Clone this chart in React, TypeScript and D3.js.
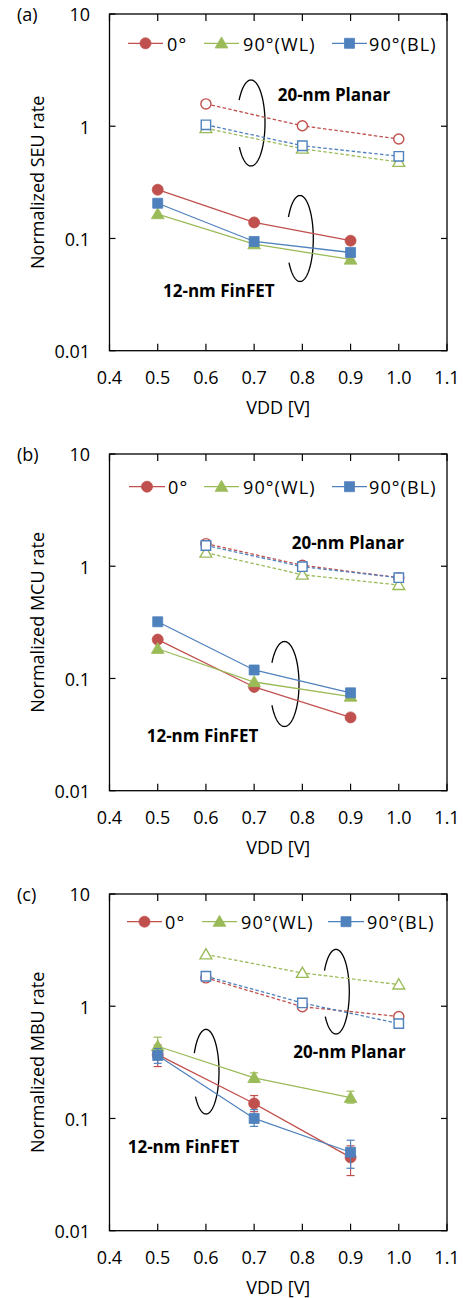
import React from "react";
import * as d3 from "d3";

// Supply voltages (V) for each technology
const vddPlanar = [0.6, 0.8, 1.0];
const vddFinfet = [0.5, 0.7, 0.9];

// Axis ticks
const xTicks = [0.4, 0.5, 0.6, 0.7, 0.8, 0.9, 1.0, 1.1];
const yTicks = [0.01, 0.1, 1, 10];

// Series (incidence angle)
const seriesNames = ["0°", "90°(WL)", "90°(BL)"];
const seriesColors = ["#C0504D", "#9BBB59", "#4F81BD"];
const seriesSymbols = [d3.symbolCircle, d3.symbolTriangle, d3.symbolSquare];

// (a) SEU rate
const seuPlanar0 = [1.58, 1.01, 0.77];
const seuPlanarWL = [0.96, 0.63, 0.48];
const seuPlanarBL = [1.03, 0.67, 0.54];
const seuFinfet0 = [0.272, 0.139, 0.0955];
const seuFinfetWL = [0.165, 0.089, 0.065];
const seuFinfetBL = [0.206, 0.094, 0.075];

// (b) MCU rate
const mcuPlanar0 = [1.59, 1.02, 0.79];
const mcuPlanarWL = [1.32, 0.84, 0.68];
const mcuPlanarBL = [1.53, 0.99, 0.79];
const mcuFinfet0 = [0.222, 0.084, 0.045];
const mcuFinfetWL = [0.184, 0.093, 0.069];
const mcuFinfetBL = [0.32, 0.119, 0.0745];

// (c) MBU rate
const mbuPlanar0 = [1.79, 0.99, 0.81];
const mbuPlanarWL = [2.89, 1.98, 1.56];
const mbuPlanarBL = [1.85, 1.07, 0.7];
const mbuFinfet0 = [0.37, 0.136, 0.045];
const mbuFinfetWL = [0.44, 0.23, 0.153];
const mbuFinfetBL = [0.364, 0.1, 0.05];

// (c) error bars [low, high]
const mbuPlanar0Err = [[1.74, 1.84], [0.94, 1.03], [0.77, 0.86]];
const mbuFinfet0Err = [[0.29, 0.45], [0.115, 0.16], [0.031, 0.057]];
const mbuFinfetWLErr = [[0.37, 0.53], [0.21, 0.255], [0.137, 0.175]];
const mbuFinfetBLErr = [[0.31, 0.42], [0.085, 0.12], [0.036, 0.064]];

type Ellipse = { cx: number; cy: number; rx: number; ry: number; gapLow: number; gapHigh: number };

type PanelSpec = {
  tag: string;
  yTitle: string;
  top: number;
  planar: number[][];
  finfet: number[][];
  planarErr?: (number[][] | null)[];
  finfetErr?: (number[][] | null)[];
  legendY: number;
  legend: { x1: number; x2: number; tx: number }[];
  planarLabel: [number, number];
  finfetLabel: [number, number];
  ellipses: Ellipse[];
};

const panels: PanelSpec[] = [
  {
    tag: "(a)",
    yTitle: "Normalized SEU rate",
    top: 14,
    planar: [seuPlanar0, seuPlanarWL, seuPlanarBL],
    finfet: [seuFinfet0, seuFinfetWL, seuFinfetBL],
    legendY: 29.3,
    legend: [
      { x1: 128, x2: 163, tx: 167 },
      { x1: 204, x2: 239, tx: 243 },
      { x1: 332, x2: 367, tx: 369 },
    ],
    planarLabel: [277.7, 81],
    finfetLabel: [163, 276.7],
    ellipses: [
      { cx: 251, cy: 109, rx: 14, ry: 43, gapLow: 34, gapHigh: 32 },
      { cx: 300, cy: 224.5, rx: 13.3, ry: 43, gapLow: 34, gapHigh: 30 },
    ],
  },
  {
    tag: "(b)",
    yTitle: "Normalized MCU rate",
    top: 454,
    planar: [mcuPlanar0, mcuPlanarWL, mcuPlanarBL],
    finfet: [mcuFinfet0, mcuFinfetWL, mcuFinfetBL],
    legendY: 32.7,
    legend: [
      { x1: 129, x2: 165, tx: 168 },
      { x1: 204, x2: 239, tx: 243 },
      { x1: 332, x2: 367, tx: 369 },
    ],
    planarLabel: [291.7, 88.7],
    finfetLabel: [146.7, 282],
    ellipses: [{ cx: 284.5, cy: 230, rx: 14.5, ry: 42.5, gapLow: 30, gapHigh: 30 }],
  },
  {
    tag: "(c)",
    yTitle: "Normalized MBU rate",
    top: 894,
    planar: [mbuPlanar0, mbuPlanarWL, mbuPlanarBL],
    finfet: [mbuFinfet0, mbuFinfetWL, mbuFinfetBL],
    planarErr: [mbuPlanar0Err, null, null],
    finfetErr: [mbuFinfet0Err, mbuFinfetWLErr, mbuFinfetBLErr],
    legendY: 27.7,
    legend: [
      { x1: 127, x2: 162, tx: 165 },
      { x1: 202, x2: 237, tx: 241 },
      { x1: 328, x2: 364, tx: 367 },
    ],
    planarLabel: [293.3, 157.7],
    finfetLabel: [127.7, 253.3],
    ellipses: [
      { cx: 336, cy: 97.7, rx: 13.3, ry: 42.3, gapLow: 36, gapHigh: 30 },
      { cx: 206, cy: 177.7, rx: 13, ry: 42.3, gapLow: 36, gapHigh: 26 },
    ],
  },
];

const FONT = "'Open Sans', sans-serif";
const LEFT = 109.5;
const RIGHT = 447;
const PLOT_H = 336.7;

function ellipseArc(e: Ellipse, cy0: number) {
  const start = 180 + e.gapHigh;
  const end = 540 - e.gapLow;
  const pts: [number, number][] = d3.range(start, end + 0.5, 2).map((deg) => {
    const t = (deg * Math.PI) / 180;
    return [e.cx + e.rx * Math.cos(t), cy0 + e.cy + e.ry * Math.sin(t)];
  });
  return d3.line()(pts) || "";
}

function Marker({ i, x, y, hollow, size }: { i: number; x: number; y: number; hollow: boolean; size?: number }) {
  const sizes = hollow ? [80, 60, 88] : [95, 70, 100];
  const d = d3.symbol().type(seriesSymbols[i]).size(size ?? sizes[i])() || "";
  const dy = i === 1 ? 1 : 0;
  return (
    <path
      d={d}
      transform={`translate(${x},${y + dy})`}
      fill={hollow ? "#fff" : seriesColors[i]}
      stroke={seriesColors[i]}
      strokeWidth={hollow ? 1.4 : 0.8}
    />
  );
}

function Panel({ spec }: { spec: PanelSpec }) {
  const top = spec.top;
  const bottom = top + PLOT_H;
  const x = d3.scaleLinear().domain([0.4, 1.1]).range([LEFT, RIGHT]);
  const y = d3.scaleLog().domain([0.01, 10]).range([bottom, top]);
  const fmtX = d3.format(".1f");
  const line = d3
    .line<[number, number]>()
    .x((d) => x(d[0]))
    .y((d) => y(d[1]));

  const errBars = (vdd: number[], errs: number[][] | null | undefined, color: string, key: string) =>
    errs
      ? errs.map((r, k) => (
          <g key={`${key}-${k}`} stroke={color} strokeWidth={1.2}>
            <line x1={x(vdd[k])} x2={x(vdd[k])} y1={y(r[0])} y2={y(r[1])} />
            <line x1={x(vdd[k]) - 4} x2={x(vdd[k]) + 4} y1={y(r[0])} y2={y(r[0])} />
            <line x1={x(vdd[k]) - 4} x2={x(vdd[k]) + 4} y1={y(r[1])} y2={y(r[1])} />
          </g>
        ))
      : null;

  return (
    <g>
      <text x={17} y={top + 1} dy="0.35em" fontSize={18} fontFamily={FONT} fill="#000">
        {spec.tag}
      </text>
      {/* frame */}
      <rect x={LEFT} y={top} width={RIGHT - LEFT} height={PLOT_H} fill="none" stroke="#000" strokeWidth={1.3} />
      {/* x ticks, inside on both edges */}
      {xTicks.map((t) => (
        <g key={`xt${t}`} stroke="#000" strokeWidth={1.2}>
          <line x1={x(t)} x2={x(t)} y1={bottom} y2={bottom - 7} />
          <line x1={x(t)} x2={x(t)} y1={top} y2={top + 7} />
        </g>
      ))}
      {xTicks.map((t) => (
        <text
          key={`xl${t}`}
          x={x(t)}
          y={bottom + 27.3}
          dy="0.35em"
          textAnchor="middle"
          fontSize={18}
          fontFamily={FONT}
          fill="#000"
        >
          {fmtX(t)}
        </text>
      ))}
      {/* y ticks */}
      {yTicks.map((t) => (
        <g key={`yt${t}`} stroke="#000" strokeWidth={1.2}>
          <line x1={LEFT} x2={LEFT + 6} y1={y(t)} y2={y(t)} />
          <line x1={RIGHT} x2={RIGHT - 6} y1={y(t)} y2={y(t)} />
        </g>
      ))}
      {yTicks.map((t) => (
        <text
          key={`yl${t}`}
          x={90}
          y={y(t) + 1}
          dy="0.35em"
          textAnchor="end"
          fontSize={18}
          fontFamily={FONT}
          fill="#000"
        >
          {String(t)}
        </text>
      ))}
      <text
        x={(LEFT + RIGHT) / 2}
        y={bottom + 57}
        dy="0.35em"
        textAnchor="middle"
        fontSize={18}
        fontFamily={FONT}
        fill="#000"
      >
        VDD [V]
      </text>
      <text
        transform={`translate(38,${(top + bottom) / 2}) rotate(-90)`}
        dy="0.35em"
        textAnchor="middle"
        fontSize={18}
        fontFamily={FONT}
        fill="#000"
      >
        {spec.yTitle}
      </text>

      {/* group ellipses */}
      {spec.ellipses.map((e, k) => (
        <path key={`el${k}`} d={ellipseArc(e, top)} fill="none" stroke="#000" strokeWidth={1.3} />
      ))}

      {/* planar: dashed lines with hollow markers */}
      {spec.planar.map((vals, i) => (
        <g key={`pl${i}`}>
          <path
            d={line(vddPlanar.map((v, k) => [v, vals[k]] as [number, number])) || ""}
            fill="none"
            stroke={seriesColors[i]}
            strokeWidth={1.3}
            strokeDasharray="3.5,2.2"
          />
          {errBars(vddPlanar, spec.planarErr?.[i], seriesColors[i], `pe${i}`)}
          {vals.map((v, k) => (
            <Marker key={k} i={i} x={x(vddPlanar[k])} y={y(v)} hollow />
          ))}
        </g>
      ))}

      {/* FinFET: solid lines with filled markers */}
      {spec.finfet.map((vals, i) => (
        <g key={`ff${i}`}>
          <path
            d={line(vddFinfet.map((v, k) => [v, vals[k]] as [number, number])) || ""}
            fill="none"
            stroke={seriesColors[i]}
            strokeWidth={1.3}
          />
          {errBars(vddFinfet, spec.finfetErr?.[i], seriesColors[i], `fe${i}`)}
          {vals.map((v, k) => (
            <Marker key={k} i={i} x={x(vddFinfet[k])} y={y(v)} hollow={false} />
          ))}
        </g>
      ))}

      {/* annotations */}
      <text
        x={spec.planarLabel[0]}
        y={top + spec.planarLabel[1]}
        dy="0.35em"
        fontSize={17}
        fontWeight="bold"
        fontFamily={FONT}
        fill="#000"
      >
        20-nm Planar
      </text>
      <text
        x={spec.finfetLabel[0]}
        y={top + spec.finfetLabel[1]}
        dy="0.35em"
        fontSize={17}
        fontWeight="bold"
        fontFamily={FONT}
        fill="#000"
      >
        12-nm FinFET
      </text>

      {/* legend */}
      {spec.legend.map((l, i) => (
        <g key={`lg${i}`}>
          <line
            x1={l.x1}
            x2={l.x2}
            y1={top + spec.legendY}
            y2={top + spec.legendY}
            stroke={seriesColors[i]}
            strokeWidth={1.3}
          />
          <Marker i={i} x={(l.x1 + l.x2) / 2} y={top + spec.legendY} hollow={false} />
          <text
            x={l.tx}
            y={top + spec.legendY + 1}
            dy="0.35em"
            fontSize={18}
            fontFamily={FONT}
            letterSpacing={1.1}
            fill="#000"
          >
            {seriesNames[i]}
          </text>
        </g>
      ))}
    </g>
  );
}

export default function App() {
  return (
    <svg
      width={463}
      height={1298}
      style={{ position: "absolute", left: 0, top: 0, background: "#fff" }}
    >
      <rect width={463} height={1298} fill="#fff" />
      {panels.map((p) => (
        <Panel key={p.tag} spec={p} />
      ))}
    </svg>
  );
}
